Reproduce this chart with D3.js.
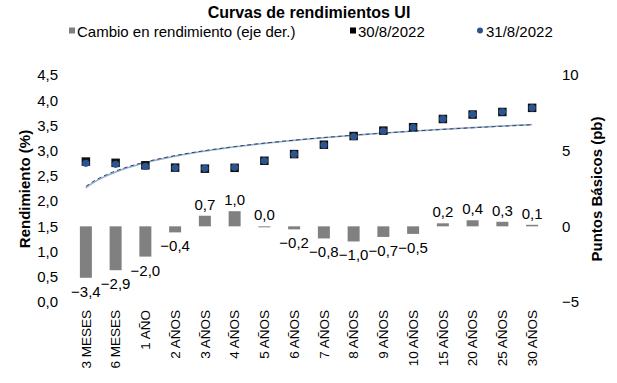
<!DOCTYPE html>
<html><head><meta charset="utf-8">
<script src="https://cdn.jsdelivr.net/npm/d3@7"></script>
<style>body{margin:0;background:#fff} text{font-family:"Liberation Sans",Arial,sans-serif;fill:#000}</style>
</head><body><svg id="c" width="617" height="383"></svg>
<script>
const categories = ["3 MESES","6 MESES","1 AÑO","2 AÑOS","3 AÑOS","4 AÑOS","5 AÑOS","6 AÑOS","7 AÑOS","8 AÑOS","9 AÑOS","10 AÑOS","15 AÑOS","20 AÑOS","25 AÑOS","30 AÑOS"];
const yield3008 = [2.784,2.759,2.710,2.664,2.643,2.660,2.800,2.932,3.118,3.290,3.397,3.465,3.628,3.716,3.767,3.849];
const yield3108 = [2.750,2.730,2.690,2.660,2.650,2.670,2.800,2.930,3.110,3.280,3.390,3.460,3.630,3.720,3.770,3.850];
const changeBp = [-3.4,-2.9,-2.0,-0.4,0.7,1.0,0.0,-0.2,-0.8,-1.0,-0.7,-0.5,0.2,0.4,0.3,0.1];
const leftTicks = [0,0.5,1,1.5,2,2.5,3,3.5,4,4.5];
const rightTicks = [-5,0,5,10];
const seriesNames = ["Cambio en rendimiento (eje der.)","30/8/2022","31/8/2022"];

(function(){
const svg = d3.select("#c");
const pTop = 75, pBottom = 302, pLeft = 71, pRight = 547;
const fmt = v => d3.format(".1f")(v).replace(".", ",");

const x = d3.scaleBand().domain(categories).range([pLeft, pRight]);
const yL = d3.scaleLinear().domain([0, 4.5]).range([pBottom, pTop]);
const yR = d3.scaleLinear().domain([-5, 10]).range([pBottom, pTop]);
const cx = c => x(c) + x.bandwidth() / 2;

// Title
svg.append("text").attr("x", 309).attr("y", 18).attr("text-anchor", "middle")
  .style("font-size", "16px").style("font-weight", "bold").text("Curvas de rendimientos UI");

// Legend
const lg = svg.append("g");
lg.append("rect").attr("x", 69).attr("y", 27.5).attr("width", 6).attr("height", 6).attr("fill", "#808080");
lg.append("text").attr("x", 77).attr("y", 36.5).style("font-size", "15px").text(seriesNames[0]);
lg.append("rect").attr("x", 350).attr("y", 27.5).attr("width", 6).attr("height", 6).attr("fill", "#000");
lg.append("text").attr("x", 358).attr("y", 36.5).style("font-size", "15px").text(seriesNames[1]);
lg.append("circle").attr("cx", 480).attr("cy", 30.5).attr("r", 3).attr("fill", "#2a5590");
lg.append("text").attr("x", 486).attr("y", 36.5).style("font-size", "15px").text(seriesNames[2]);

// Left axis
const axL = svg.append("g").attr("transform", `translate(${pLeft - 13},0)`)
  .call(d3.axisLeft(yL).tickValues(leftTicks).tickFormat(fmt).tickSize(0).tickPadding(0));
axL.select(".domain").remove();
axL.selectAll("text").style("font-size", "15px").style("font-family", '"Liberation Sans",Arial,sans-serif').attr("fill", "#000");

// Right axis
const axR = svg.append("g").attr("transform", `translate(${pRight + 15},0)`)
  .call(d3.axisRight(yR).tickValues(rightTicks).tickFormat(d3.format("d")).tickSize(0).tickPadding(0));
axR.select(".domain").remove();
axR.selectAll("text").style("font-size", "15px").style("font-family", '"Liberation Sans",Arial,sans-serif').attr("fill", "#000");

// Axis titles
svg.append("text").attr("transform", "translate(30,189) rotate(-90)").attr("text-anchor", "middle")
  .style("font-size", "15px").style("font-weight", "bold").text("Rendimiento (%)");
svg.append("text").attr("transform", "translate(602,189) rotate(-90)").attr("text-anchor", "middle")
  .style("font-size", "15px").style("font-weight", "bold").text("Puntos Básicos (pb)");

// X labels
const axX = svg.append("g").attr("transform", `translate(0,${pBottom + 8})`)
  .call(d3.axisBottom(x).tickSize(0).tickPadding(0));
axX.select(".domain").remove();
axX.selectAll("text").style("font-size", "13.5px").style("font-family", '"Liberation Sans",Arial,sans-serif').attr("fill", "#000")
  .attr("transform", "rotate(-90)").attr("text-anchor", "end").attr("x", 0).attr("y", 0).attr("dy", "0.35em").attr("dx", 0);

// Bars
const bw = 12;
const bars = categories.map((c, i) => ({c, v: changeBp[i]}));
svg.append("g").selectAll("rect").data(bars).join("rect")
  .attr("x", d => cx(d.c) - bw / 2)
  .attr("y", d => Math.min(yR(d.v), yR(0)))
  .attr("width", bw)
  .attr("height", d => Math.max(Math.abs(yR(d.v) - yR(0)), 1))
  .attr("fill", "#808080");
svg.append("g").selectAll("text").data(bars).join("text")
  .attr("x", d => cx(d.c))
  .attr("y", d => d.v < 0 ? yR(d.v) + 19 : yR(d.v) - 6)
  .attr("text-anchor", "middle").style("font-size", "15px")
  .text(d => fmt(d.v));

// Log trendlines (least squares fit y = a ln(n) + b)
function logFit(vals) {
  const lx = vals.map((_, i) => Math.log(i + 1));
  const mx = d3.mean(lx), my = d3.mean(vals);
  const a = d3.sum(lx, (l, i) => (l - mx) * (vals[i] - my)) / d3.sum(lx, l => (l - mx) ** 2);
  return n => a * Math.log(n) + my - a * mx;
}
const xn = d3.scaleLinear().domain([1, categories.length]).range([cx(categories[0]), cx(categories[categories.length - 1])]);
const ns = d3.range(1, categories.length + 0.001, 0.1);
const line = f => d3.line().x(n => xn(n)).y(n => yL(f(n)))(ns);
svg.append("path").attr("d", line(logFit(yield3108))).attr("fill", "none").attr("stroke", "#8fb0d8").attr("stroke-width", 1.6);
svg.append("path").attr("d", line(logFit(yield3008))).attr("fill", "none").attr("stroke", "#3a3f4a").attr("stroke-width", 1).attr("stroke-dasharray", "4,3");

// Markers
svg.append("g").selectAll("rect").data(categories).join("rect")
  .attr("x", (c) => cx(c) - 4.25).attr("y", (c, i) => yL(yield3008[i]) - 4.25)
  .attr("width", 8.5).attr("height", 8.5).attr("fill", "#111");
svg.append("g").selectAll("circle").data(categories).join("circle")
  .attr("cx", c => cx(c)).attr("cy", (c, i) => yL(yield3108[i]))
  .attr("r", 3.6).attr("fill", "#2a5590");
})();
</script></body></html>
